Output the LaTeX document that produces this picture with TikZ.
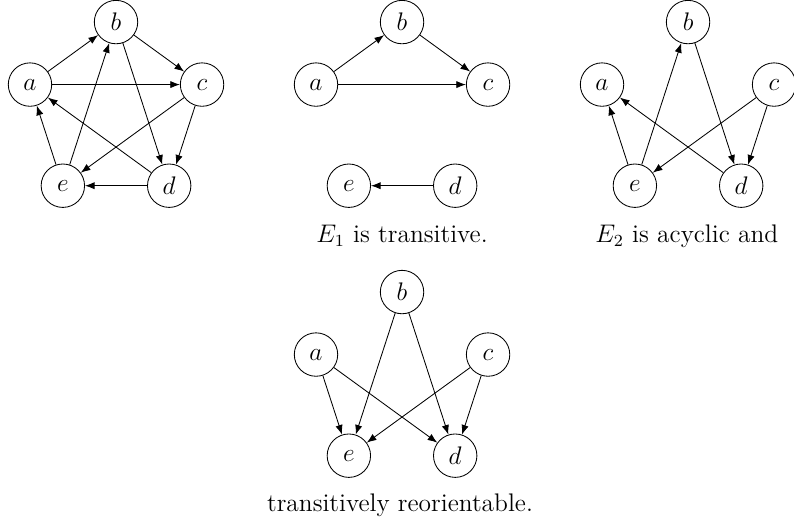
\documentclass[tikz,border=0pt]{standalone}
\usepackage{amsmath,amssymb}
\usepackage{tikz}
\usetikzlibrary{arrows.meta,positioning,calc}

\begin{document}
\begin{tikzpicture}[
    vertex/.style={draw,circle,minimum size=0.72cm,inner sep=0pt,font=\large},
    arc/.style={-{Latex[length=1.6mm,width=1.2mm]}},
    caption/.style={font=\large}
  ]
    \useasboundingbox (0,0) rectangle (13.167,-8.806);

    % Tournament on five vertices.
    \begin{scope}[shift={(1.924,-1.866)}]
      \node[vertex] (b1) at (90:1.5) {$b$};
      \node[vertex] (a1) at (162:1.5) {$a$};
      \node[vertex] (c1) at (18:1.5) {$c$};
      \node[vertex] (e1) at (234:1.5) {$e$};
      \node[vertex] (d1) at (306:1.5) {$d$};
    \end{scope}
    \draw[arc] (a1) -- (b1);
    \draw[arc] (b1) -- (c1);
    \draw[arc] (a1) -- (c1);
    \draw[arc] (c1) -- (e1);
    \draw[arc] (c1) -- (d1);
    \draw[arc] (b1) -- (d1);
    \draw[arc] (e1) -- (b1);
    \draw[arc] (e1) -- (a1);
    \draw[arc] (d1) -- (a1);
    \draw[arc] (d1) -- (e1);

    % E_1: the transitive part.
    \begin{scope}[shift={(6.667,-1.866)}]
      \node[vertex] (b2) at (90:1.5) {$b$};
      \node[vertex] (a2) at (162:1.5) {$a$};
      \node[vertex] (c2) at (18:1.5) {$c$};
      \node[vertex] (e2) at (234:1.5) {$e$};
      \node[vertex] (d2) at (306:1.5) {$d$};
    \end{scope}
    \draw[arc] (a2) -- (b2);
    \draw[arc] (b2) -- (c2);
    \draw[arc] (a2) -- (c2);
    \draw[arc] (d2) -- (e2);
    \node[caption] (cap1) at (6.667,-3.914) {$E_1$ is transitive.};

    % E_2: acyclic, before and after reorienting.
    \begin{scope}[shift={(11.41,-1.866)}]
      \node[vertex] (b3) at (90:1.5) {$b$};
      \node[vertex] (a3) at (162:1.5) {$a$};
      \node[vertex] (c3) at (18:1.5) {$c$};
      \node[vertex] (e3) at (234:1.5) {$e$};
      \node[vertex] (d3) at (306:1.5) {$d$};
    \end{scope}
    \draw[arc] (e3) -- (b3);
    \draw[arc] (b3) -- (d3);
    \draw[arc] (e3) -- (a3);
    \draw[arc] (d3) -- (a3);
    \draw[arc] (c3) -- (e3);
    \draw[arc] (c3) -- (d3);
    \node[caption] (cap2) at (11.39,-3.914) {$E_2$ is acyclic and};

    \begin{scope}[shift={(6.667,-6.343)}]
      \node[vertex] (b4) at (90:1.5) {$b$};
      \node[vertex] (a4) at (162:1.5) {$a$};
      \node[vertex] (c4) at (18:1.5) {$c$};
      \node[vertex] (e4) at (234:1.5) {$e$};
      \node[vertex] (d4) at (306:1.5) {$d$};
    \end{scope}
    \draw[arc] (a4) -- (e4);
    \draw[arc] (a4) -- (d4);
    \draw[arc] (b4) -- (e4);
    \draw[arc] (b4) -- (d4);
    \draw[arc] (c4) -- (e4);
    \draw[arc] (c4) -- (d4);
    \node[caption] (cap3) at (6.633,-8.375) {transitively reorientable.};
  \end{tikzpicture}
\end{document}
